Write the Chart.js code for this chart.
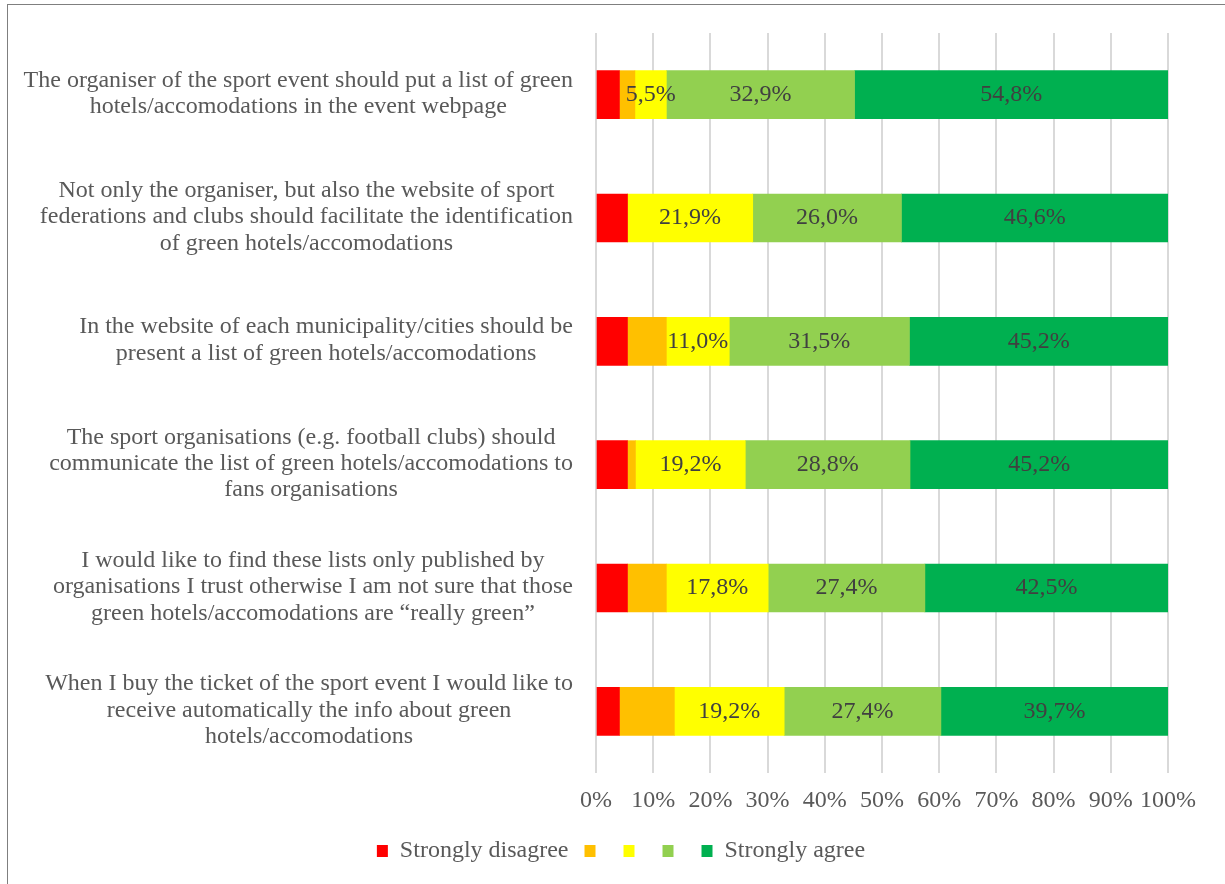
<!DOCTYPE html>
<html>
<head>
<meta charset="utf-8">
<script src="https://cdn.jsdelivr.net/npm/chart.js@4"></script>
<style>
  html, body { margin: 0; padding: 0; background: #fff; }
  #wrap { position: relative; width: 1225px; height: 884px; overflow: hidden; }
  #c { position: absolute; left: 0; top: 0; }
  .frameL { position: absolute; left: 7px; top: 4px; width: 1px; height: 880px; background: #7f7f7f; }
  .frameT { position: absolute; left: 7px; top: 4px; width: 1218px; height: 1px; background: #7f7f7f; }
</style>
</head>
<body>
<div id="wrap">
  <canvas id="c" width="1225" height="884"></canvas>
  <div class="frameL"></div>
  <div class="frameT"></div>
</div>
<script>
const categories = [
  ['The organiser of the sport event should put a list of green', 'hotels/accomodations in the event webpage'],
  ['Not only the organiser, but also the website of sport', 'federations and clubs should facilitate the identification', 'of green hotels/accomodations'],
  ['In the website of each municipality/cities should be', 'present a list of green hotels/accomodations'],
  ['The sport organisations (e.g. football clubs) should', 'communicate the list of green hotels/accomodations to', 'fans organisations'],
  ['I would like to find these lists only published by', 'organisations I trust otherwise I am not sure that those', 'green hotels/accomodations are \u201creally green\u201d'],
  ['When I buy the ticket of the sport event I would like to', 'receive automatically the info about green', 'hotels/accomodations']
];
const seriesNames = ['Strongly disagree', '', '', '', 'Strongly agree'];
const stronglyDisagree = [4.1, 5.5, 5.5, 5.5, 5.5, 4.1];
const disagree = [2.7, 0, 6.8, 1.4, 6.8, 9.6];
const neutral = [5.5, 21.9, 11.0, 19.2, 17.8, 19.2];
const agree = [32.9, 26.0, 31.5, 28.8, 27.4, 27.4];
const stronglyAgree = [54.8, 46.6, 45.2, 45.2, 42.5, 39.7];
const xTicks = [0, 10, 20, 30, 40, 50, 60, 70, 80, 90, 100];

const colors = ['#FF0000', '#FFC000', '#FFFF00', '#92D050', '#00B050'];
const seriesValues = [stronglyDisagree, disagree, neutral, agree, stronglyAgree];
const labeledSeries = [2, 3, 4];
const FONT = "'Liberation Serif', 'Times New Roman', serif";
const PAD_L = 74;

const yLabelPlugin = {
  id: 'yLabels',
  afterDraw(chart) {
    const ctx = chart.ctx;
    const ys = chart.scales.y;
    const right = chart.chartArea.left - 23;
    ctx.save();
    ctx.font = '24px ' + FONT;
    ctx.fillStyle = '#595959';
    ctx.textAlign = 'center';
    ctx.textBaseline = 'middle';
    categories.forEach((lines, i) => {
      const cy = ys.getPixelForValue(i);
      const w = Math.max(...lines.map(l => ctx.measureText(l).width));
      const cx = right - w / 2;
      const lh = 26.3;
      lines.forEach((l, j) => {
        ctx.fillText(l, cx, cy + (j - (lines.length - 1) / 2) * lh - 1);
      });
    });
    ctx.restore();
  }
};

const dataLabelPlugin = {
  id: 'barLabels',
  afterDatasetsDraw(chart) {
    const ctx = chart.ctx;
    ctx.save();
    ctx.font = '24px ' + FONT;
    ctx.fillStyle = '#404040';
    ctx.textAlign = 'center';
    ctx.textBaseline = 'middle';
    labeledSeries.forEach(di => {
      const meta = chart.getDatasetMeta(di);
      meta.data.forEach((bar, i) => {
        const v = seriesValues[di][i];
        if (!v) return;
        const x = (bar.x + bar.base) / 2;
        ctx.fillText(v.toFixed(1).replace('.', ',') + '%', x, bar.y);
      });
    });
    ctx.restore();
  }
};

new Chart(document.getElementById('c'), {
  type: 'bar',
  data: {
    labels: categories,
    datasets: seriesValues.map((vals, k) => ({
      label: seriesNames[k],
      data: vals,
      backgroundColor: colors[k],
      borderWidth: 0,
      barThickness: 48
    }))
  },
  options: {
    indexAxis: 'y',
    responsive: false,
    animation: false,
    layout: { padding: { left: PAD_L, right: 57, top: 33, bottom: 11 } },
    scales: {
      x: {
        stacked: true,
        min: 0,
        max: 100,
        afterBuildTicks: s => { s.ticks = xTicks.map(v => ({ value: v })); },
        afterFit: s => { s.height = 50; },
        ticks: {
          callback: v => v + '%',
          color: '#595959',
          font: { family: FONT, size: 24 },
          padding: 13,
          maxRotation: 0,
          autoSkip: false
        },
        grid: { color: '#d9d9d9', lineWidth: 2, drawTicks: false },
        border: { display: false }
      },
      y: {
        stacked: true,
        ticks: { display: false },
        grid: { display: false },
        border: { display: false },
        afterFit: s => { s.width = 596 - PAD_L; }
      }
    },
    plugins: {
      legend: {
        position: 'bottom',
        labels: {
          boxWidth: 11,
          boxHeight: 12,
          padding: 16,
          color: '#595959',
          font: { family: FONT, size: 24 }
        }
      },
      tooltip: { enabled: false }
    }
  },
  plugins: [yLabelPlugin, dataLabelPlugin]
});
</script>
</body>
</html>
